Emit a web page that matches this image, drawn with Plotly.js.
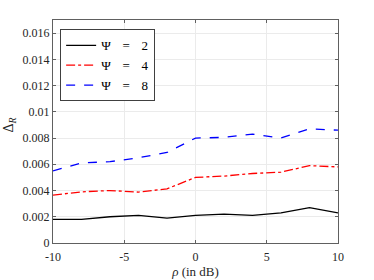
<!DOCTYPE html>
<html><head><meta charset="utf-8">
<script src="https://cdn.plot.ly/plotly-3.0.1.min.js"></script>
<style>html,body{margin:0;padding:0;background:#fff}#c{width:374px;height:280px}</style>
</head><body><div id="c"></div>
<script>
const rho = [-10, -8, -6, -4, -2, 0, 2, 4, 6, 8, 10];
const psi2 = [0.0018, 0.0018, 0.0020, 0.0021, 0.0019, 0.0021, 0.0022, 0.0021, 0.0023, 0.0027, 0.0023];
const psi4 = [0.00365, 0.0039, 0.0040, 0.00388, 0.00413, 0.0050, 0.0051, 0.0053, 0.0054, 0.0059, 0.0058];
const psi8 = [0.0055, 0.0061, 0.0062, 0.0065, 0.0069, 0.0080, 0.00805, 0.0083, 0.0080, 0.0087, 0.0086];
const seriesNames = ['Ψ\u2002\u2009\u2009=\u2002\u2009\u20092', 'Ψ\u2002\u2009\u2009=\u2002\u2009\u20094', 'Ψ\u2002\u2009\u2009=\u2002\u2009\u20098'];
const yTickVals = [0, 0.002, 0.004, 0.006, 0.008, 0.01, 0.012, 0.014, 0.016];
const yTickText = ['0', '0.002', '0.004', '0.006', '0.008', '0.01', '0.012', '0.014', '0.016'];
const xTickVals = [-10, -5, 0, 5, 10];
const xTickText = ['-10', '-5', '0', '5', '10'];
const yTitle = 'Δ<sub><i>R</i></sub>';
const xTitle = '<i>ρ</i> (in dB)';

const FAM = "Times New Roman, Liberation Serif, DejaVu Serif, serif";
const font = {family: FAM, size: 12, color: '#262626'};
const traces = [
  {x: rho, y: psi2, name: seriesNames[0], mode: 'lines', line: {color: '#000000', width: 1.3, dash: 'solid'}},
  {x: rho, y: psi4, name: seriesNames[1], mode: 'lines', line: {color: '#ff0000', width: 1.3, dash: 'dashdot'}},
  {x: rho, y: psi8, name: seriesNames[2], mode: 'lines', line: {color: '#0000ff', width: 1.3, dash: 'dash'}}
];
const axisCommon = {
  showline: true, linecolor: '#606060', linewidth: 1, mirror: 'ticks',
  ticks: 'inside', ticklen: 3, tickcolor: '#606060',
  showgrid: true, gridcolor: '#ebebeb', gridwidth: 1, zeroline: false,
  tickfont: font
};
const layout = {
  width: 374, height: 280,
  margin: {l: 53, r: 36, t: 20, b: 37},
  paper_bgcolor: '#ffffff', plot_bgcolor: '#ffffff',
  font: font,
  showlegend: true,
  legend: {x: 0.025, y: 0.958, xanchor: 'left', yanchor: 'top', bgcolor: '#ffffff',
           bordercolor: '#404040', borderwidth: 1, font: {family: FAM, size: 13, color: '#000'},
           tracegroupgap: 0},
  xaxis: Object.assign({}, axisCommon, {range: [-10, 10], tickvals: xTickVals, ticktext: xTickText,
          ticklabelstandoff: 3,
          title: {text: xTitle, font: {family: FAM, size: 13, color: '#262626'}, standoff: 2}}),
  yaxis: Object.assign({}, axisCommon, {range: [0, 0.017], tickvals: yTickVals, ticktext: yTickText}),
  annotations: [{text: yTitle, xref: 'paper', yref: 'paper', x: -0.152, y: 0.53,
                 xanchor: 'center', yanchor: 'middle', textangle: -90, showarrow: false,
                 font: {family: FAM, size: 14, color: '#262626'}}]
};
Plotly.newPlot('c', traces, layout, {displayModeBar: false, staticPlot: true});
</script></body></html>
